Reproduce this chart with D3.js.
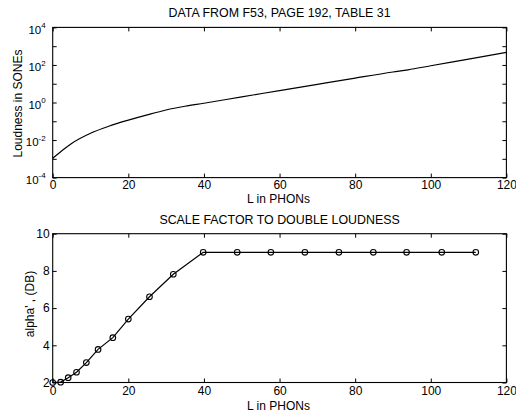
<!DOCTYPE html>
<html>
<head>
<meta charset="utf-8">
<script src="https://cdn.jsdelivr.net/npm/d3@7"></script>
<style>
  body { margin: 0; background: #fff; }
  svg { display: block; font-family: "Liberation Sans", Arial, sans-serif; }
  .tick line { stroke: #000; }
  .domain { display: none; }
</style>
</head>
<body>
<svg id="chart" width="516" height="415"></svg>
<script>
// loudness curve (F53, table 31)
const phons = [0, 2.5, 5, 10, 15, 20, 25, 30, 35, 40, 50, 60, 70, 80, 90, 94, 100, 110, 120]
const sones = [0.00107, 0.0028, 0.0066, 0.023, 0.056, 0.115, 0.22, 0.40, 0.63, 0.91, 2.0, 4.3, 9.3, 20, 42, 55, 91, 204, 468]

// scale factor to double loudness
const levels = [0, 2.1, 4.1, 6.3, 8.9, 12.0, 15.9, 20.0, 25.6, 31.9, 39.8, 48.8, 57.7, 66.7, 75.7, 84.8, 93.6, 102.9, 111.9]
const alpha = [2.0, 2.02, 2.26, 2.55, 3.07, 3.78, 4.41, 5.41, 6.61, 7.82, 9.0, 9.0, 9.0, 9.0, 9.0, 9.0, 9.0, 9.0, 9.0]

const xTicks = [0, 20, 40, 60, 80, 100, 120]
const decadeTicks = [1e-4, 1e-3, 1e-2, 1e-1, 1, 1e1, 1e2, 1e3, 1e4]
const alphaTicks = [2, 4, 6, 8, 10]

const svg = d3.select('#chart')
const left = 52.7, right = 506.4, tick = 4

const x = d3.scaleLinear().domain([0, 120]).range([left, right])
const yTop = d3.scaleLog().domain([1e-4, 1e4]).range([177.6, 27.4])
const yBot = d3.scaleLinear().domain([2, 10]).range([382.5, 233.7])

function frame(y, yTicks, yFormat, yPad, xPad, title, titleY, ylabel, ylabelX, ylabelY, xlabelY) {
    const [y0, y1] = y.range()
    const g = svg.append('g')

    g.append('rect')
        .attr('x', left).attr('y', y1)
        .attr('width', right - left).attr('height', y0 - y1)
        .attr('fill', 'none').attr('stroke', '#000').attr('stroke-width', 1.1)

    g.append('g').attr('transform', `translate(0,${y0})`)
        .call(d3.axisBottom(x).tickValues(xTicks).tickSizeInner(-tick).tickSizeOuter(0).tickPadding(xPad).tickFormat(d3.format('d')))
    g.append('g').attr('transform', `translate(0,${y1})`)
        .call(d3.axisTop(x).tickValues(xTicks).tickSizeInner(-tick).tickSizeOuter(0).tickFormat(''))

    const yl = g.append('g').attr('transform', `translate(${left},0)`)
        .call(d3.axisLeft(y).tickValues(yTicks).tickSizeInner(-tick).tickSizeOuter(0).tickPadding(yPad).tickFormat(yFormat))
    g.append('g').attr('transform', `translate(${right},0)`)
        .call(d3.axisRight(y).tickValues(yTicks).tickSizeInner(-tick).tickSizeOuter(0).tickFormat(''))

    g.selectAll('.tick text').attr('font-size', 12).attr('fill', '#000')
        .attr('font-family', '"Liberation Sans", Arial, sans-serif')

    g.append('text')
        .attr('x', (left + right) / 2).attr('y', titleY)
        .attr('text-anchor', 'middle').attr('font-size', 12.4)
        .text(title)

    g.append('text')
        .attr('x', 278.5).attr('y', xlabelY)
        .attr('text-anchor', 'middle').attr('font-size', 12)
        .text('L in PHONs')

    g.append('text')
        .attr('transform', `translate(${ylabelX},${ylabelY}) rotate(-90)`)
        .attr('text-anchor', 'middle').attr('font-size', 12)
        .text(ylabel)

    return yl
}

// top panel
const ylTop = frame(yTop, decadeTicks, d => {
    const e = Math.round(Math.log10(d))
    return e % 2 === 0 ? String(e) : ''
}, 7, 3, 'DATA FROM F53, PAGE 192, TABLE 31', 17, 'Loudness in SONEs', 22, 103.5, 203)

ylTop.selectAll('.tick text').each(function() {
    const t = d3.select(this), e = t.text()
    if (!e) return
    t.text('')
    t.attr('font-size', 11.5)
    t.append('tspan').text('10')
    t.append('tspan').attr('dy', -5.5).attr('font-size', 8).text(e)
    t.attr('dy', '0.5em')
})

svg.append('path')
    .datum(phons.map((p, i) => [p, sones[i]]))
    .attr('fill', 'none').attr('stroke', '#000').attr('stroke-width', 1.2)
    .attr('d', d3.line().x(d => x(d[0])).y(d => yTop(d[1])).curve(d3.curveMonotoneX))

// bottom panel
frame(yBot, alphaTicks, d3.format('d'), 3, 4, 'SCALE FACTOR TO DOUBLE LOUDNESS', 224, "alpha' , (DB)", 34, 304, 410)

const pts = levels.map((l, i) => [l, alpha[i]])

svg.append('path')
    .datum(pts)
    .attr('fill', 'none').attr('stroke', '#000').attr('stroke-width', 1.2)
    .attr('d', d3.line().x(d => x(d[0])).y(d => yBot(d[1])))

svg.append('g').selectAll('circle')
    .data(pts)
    .enter()
        .append('circle')
        .attr('cx', d => x(d[0]))
        .attr('cy', d => yBot(d[1]))
        .attr('r', 2.8)
        .attr('fill', 'none')
        .attr('stroke', '#000')
        .attr('stroke-width', 1.1)
</script>
</body>
</html>
